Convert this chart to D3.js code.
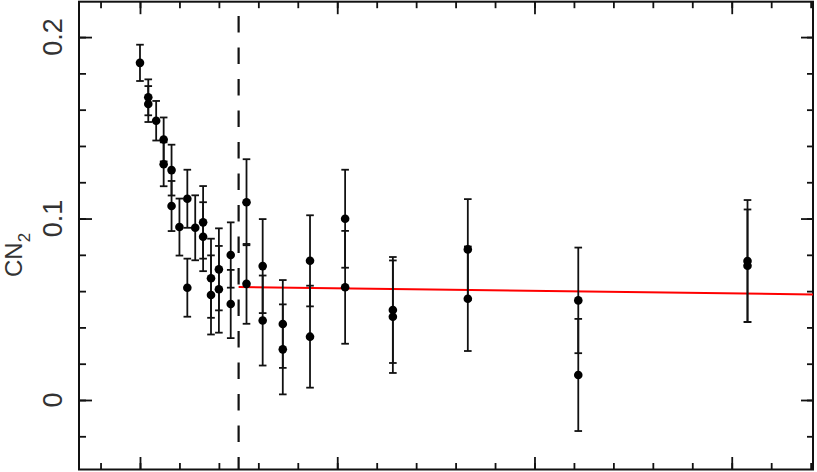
<!DOCTYPE html>
<html>
<head>
<meta charset="utf-8">
<title>CN2</title>
<style>
  body { margin: 0; background: #fff; }
  svg { display: block; }
  .lbl { font-family: "Liberation Sans", Arial, sans-serif; fill: #333; }
</style>
</head>
<body>
<script src="https://cdn.jsdelivr.net/npm/d3@7"></script>
<script>
const xs  = [0, 0.21, 0.21, 0.41, 0.6, 0.6, 0.8, 0.8, 1.0, 1.2, 1.2, 1.4, 1.6, 1.6, 1.8, 1.8,
             2.0, 2.0, 2.3, 2.3, 2.7, 2.7, 3.11, 3.11, 3.62, 3.62, 4.31, 4.31, 5.2, 5.2,
             6.41, 6.41, 8.31, 8.31, 11.11, 11.11, 15.4, 15.4]
const cn  = [0.1858, 0.1668, 0.1631, 0.1539, 0.1436, 0.1299, 0.1267, 0.1069, 0.0953, 0.1109, 0.0619,
             0.0949, 0.0979, 0.0900, 0.0671, 0.0579, 0.0720, 0.0610, 0.0799, 0.0529, 0.1090, 0.0640,
             0.0738, 0.0438, 0.0419, 0.0279, 0.0767, 0.0349, 0.0999, 0.0621, 0.0496, 0.0459,
             0.0830, 0.0558, 0.0549, 0.0138, 0.0766, 0.0740]
const err = [0.0100, 0.0099, 0.0099, 0.0109, 0.0121, 0.0121, 0.0140, 0.0138, 0.0157, 0.0160, 0.0160,
             0.0179, 0.0200, 0.0190, 0.0218, 0.0218, 0.0226, 0.0239, 0.0180, 0.0188, 0.0237, 0.0220,
             0.0259, 0.0248, 0.0242, 0.0248, 0.0251, 0.0281, 0.0270, 0.0311, 0.0292, 0.0310,
             0.0277, 0.0288, 0.0291, 0.0309, 0.0336, 0.0310]

// fitted line and the cut
const fitX = [2.5, 17.06]
const fitY = [0.0623, 0.0582]
const cutX = 2.5

// ticks
const xMinor = d3.range(-1, 18, 1)
const xMajor = [0, 5, 10, 15]
const yMinor = d3.range(-1, 11).map(i => i * 0.02)
const yMajor = [0, 0.1, 0.2]
const yLabels = ["0", "0.1", "0.2"]

const W = 817, H = 472
const L = 79, R = 813, T = 1.7, B = 469.5

const x = d3.scaleLinear().domain([-1.546, 17.06]).range([L, R])
const y = d3.scaleLinear().domain([-0.0383, 0.2195]).range([B, T])

const svg = d3.select("body").append("svg")
  .attr("width", W).attr("height", H)

// 刻度 -- all pointing inward
const tickGroup = (axis, tx, ty, vals, size) => {
  const g = svg.append("g")
    .attr("transform", `translate(${tx},${ty})`)
    .call(axis.tickValues(vals).tickSize(size).tickFormat(""))
  g.select(".domain").remove()
  g.selectAll("line").attr("stroke", "#111").attr("stroke-width", 1.8)
}
tickGroup(d3.axisTop(x), 0, B, xMinor, 6.5)
tickGroup(d3.axisTop(x), 0, B, xMajor, 12.5)
tickGroup(d3.axisBottom(x), 0, T, xMinor, 6.5)
tickGroup(d3.axisBottom(x), 0, T, xMajor, 12.5)
tickGroup(d3.axisRight(y), L, 0, yMinor, 7)
tickGroup(d3.axisRight(y), L, 0, yMajor, 13)
tickGroup(d3.axisLeft(y), R, 0, yMinor, 6)
tickGroup(d3.axisLeft(y), R, 0, yMajor, 12)

// frame
svg.append("rect")
  .attr("x", L).attr("y", T)
  .attr("width", R - L).attr("height", B - T)
  .attr("fill", "none").attr("stroke", "#111").attr("stroke-width", 2)

// y tick labels, rotated
svg.selectAll(".ylab").data(yMajor).enter()
  .append("text").attr("class", "lbl")
  .attr("transform", d => `translate(62,${y(d)}) rotate(-90)`)
  .attr("text-anchor", "middle")
  .attr("font-size", 27)
  .text((d, i) => yLabels[i])

// axis title CN_2
const title = svg.append("text").attr("class", "lbl")
  .attr("transform", "translate(22,277) rotate(-90)")
  .attr("font-size", 24)
title.append("tspan").text("CN")
title.append("tspan").attr("font-size", 17).attr("dy", 8).text("2")

// dashed cut
svg.append("line")
  .attr("x1", x(cutX)).attr("x2", x(cutX))
  .attr("y1", T).attr("y2", B)
  .attr("stroke", "#111").attr("stroke-width", 2.2)
  .attr("stroke-dasharray", "16.5,15").attr("stroke-dashoffset", 17.2)

// fit line
svg.append("line")
  .attr("x1", x(fitX[0])).attr("x2", x(fitX[1]))
  .attr("y1", y(fitY[0])).attr("y2", y(fitY[1]))
  .attr("stroke", "#f00").attr("stroke-width", 2)

// error bars
const pts = xs.map((d, i) => ({x: d, v: cn[i], e: err[i]}))
const eb = svg.append("g").attr("stroke", "#111").attr("stroke-width", 1.8)
eb.selectAll(".bar").data(pts).enter().append("line")
  .attr("x1", d => x(d.x)).attr("x2", d => x(d.x))
  .attr("y1", d => y(d.v - d.e)).attr("y2", d => y(d.v + d.e))
eb.selectAll(".capT").data(pts).enter().append("line")
  .attr("x1", d => x(d.x) - 3.8).attr("x2", d => x(d.x) + 3.8)
  .attr("y1", d => y(d.v + d.e)).attr("y2", d => y(d.v + d.e))
eb.selectAll(".capB").data(pts).enter().append("line")
  .attr("x1", d => x(d.x) - 3.8).attr("x2", d => x(d.x) + 3.8)
  .attr("y1", d => y(d.v - d.e)).attr("y2", d => y(d.v - d.e))

// points
svg.append("g").attr("fill", "#000")
  .selectAll("circle").data(pts).enter()
  .append("circle")
    .attr("r", 4.3)
    .attr("cx", d => x(d.x))
    .attr("cy", d => y(d.v))
</script>
</body>
</html>
